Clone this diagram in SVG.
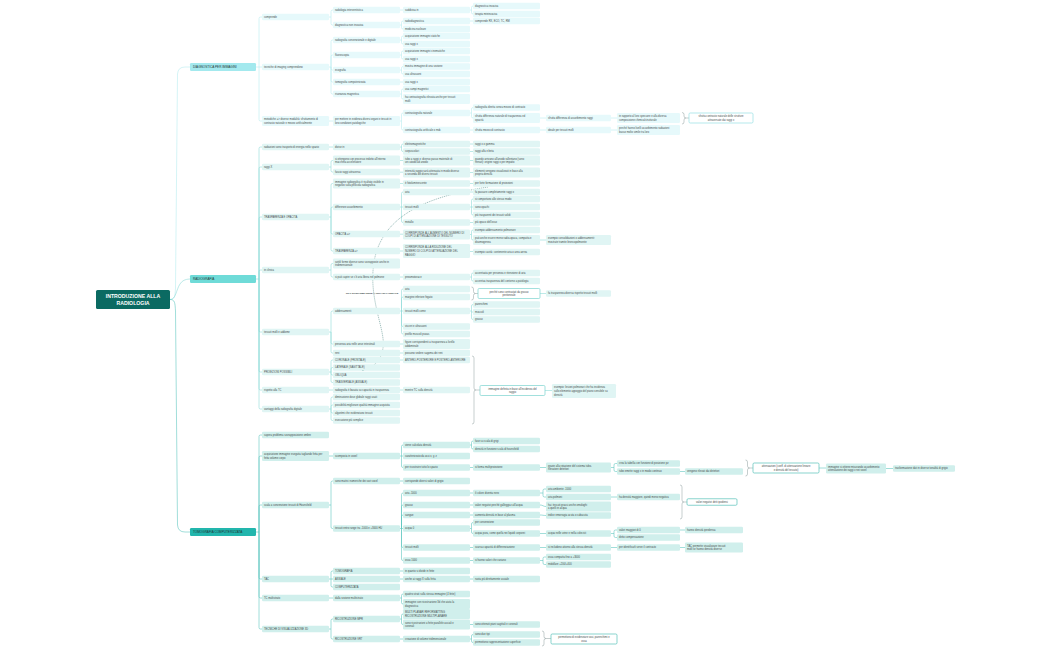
<svg xmlns="http://www.w3.org/2000/svg" width="1050" height="650" viewBox="0 0 1050 650">
<defs>
<style>
text{font-family:"Liberation Sans",Arial,sans-serif;font-size:2.6px;fill:#444b4b}
.n rect{rx:1.2px}
.d rect{fill:#e6f9fb}
.r rect{fill:#e0f5f4}
.t rect{fill:#d0efec}
.s rect{fill:#ffffff;stroke-width:.7}
.d.s rect{stroke:#96dfe4}
.r.s rect{stroke:#7ad2ce}
.t.s rect{stroke:#57c1b9}
.s text{text-anchor:middle}
.l1 text{font-size:3.1px;fill:#1f3535}
#links path{fill:none;stroke-width:.55}
#links .cd{stroke:#b2eaef}
#links .cr{stroke:#86d8d5}
#links .ct{stroke:#52c3bb}
#links .br{stroke:#8d9c9c;stroke-width:.5}
.rel{fill:none;stroke:#2e7570;stroke-width:.45;stroke-dasharray:1.2 .8}
</style>
<marker id="ah" viewBox="0 0 6 6" refX="5" refY="3" markerWidth="4" markerHeight="4" orient="auto"><path d="M0 0L6 3L0 6z" fill="#2e7570"/></marker>
</defs>
<rect width="1050" height="650" fill="#ffffff"/>

<g id="links">
<path class="cd" d="M170 299.5C175 299.5 175 296 175.5 288L177.5 74Q178 67 185 67H190"/>
<path class="cr" d="M170 299.5C176 299.5 176 290 180 284Q183 279 190 279"/>
<path class="ct" d="M170 299.5C175 299.5 175 303 175.5 311L177.5 525Q178 532 185 532H190"/>
<path class="cd" d="M256 67H262M259 67V18.5Q259 17 260.5 17H262M259 67V119.5Q259 121 260.5 121H262"/>
<path class="cd" d="M329 17H331M331 17V11.5Q331 10 332.5 10H333M331 17V23.5Q331 25 332.5 25H333"/>
<path class="cd" d="M329 67H331M331 67V41.5Q331 40 332.5 40H333M331 67V56.5Q331 55 332.5 55H333M331 67V68.5Q331 70 332.5 70H333M331 67V80.5Q331 82 332.5 82H333M331 67V92.5Q331 94 332.5 94H333"/>
<path class="cd" d="M329 121H333M400 10H403M400 82H403"/>
<path class="cd" d="M400 25H401.5M401.5 25V22.5Q401.5 21 403 21M401.5 25V27.5Q401.5 29 403 29"/>
<path class="cd" d="M400 40H401.5M401.5 40V37.5Q401.5 36 403 36M401.5 40V42.5Q401.5 44 403 44"/>
<path class="cd" d="M400 55H401.5M401.5 55V52.5Q401.5 51 403 51M401.5 55V57.5Q401.5 59 403 59"/>
<path class="cd" d="M400 70H401.5M401.5 70V68Q401.5 66.5 403 66.5M401.5 70V72.5Q401.5 74 403 74"/>
<path class="cd" d="M400 94H401.5M401.5 94V90.5Q401.5 89 403 89M401.5 94V97.5Q401.5 99 403 99"/>
<path class="cd" d="M400 121H401.5M401.5 121V114.5Q401.5 113 403 113M401.5 121V128.5Q401.5 130 403 130"/>
<path class="cd" d="M470 10H471.5M471.5 10V7.5Q471.5 6 473 6M471.5 10V12.5Q471.5 14 473 14M470 21H473"/>
<path class="cd" d="M470 113H471.5M471.5 113V109Q471.5 107.5 473 107.5M471.5 113V116.5Q471.5 118 473 118M470 130H473"/>
<path class="cd" d="M540 118H546M540 130H546M611 118H617M611 130H617"/>
<path class="br" d="M682 112.5Q684 112.5 684 114.5V116Q684 118 686 118Q684 118 684 120V122Q684 124 682 124M686 118H689"/>

<path class="cr" d="M256 279H259M259 279V148.5Q259 147 260.5 147H262M259 279V168.5Q259 167 260.5 167H262M259 279V218.5Q259 217 260.5 217H262M259 279V271.5Q259 270 260.5 270H262M259 279V330.5Q259 332 260.5 332H262M259 279V370.5Q259 372 260.5 372H262M259 279V388.5Q259 390 260.5 390H262M259 279V407.5Q259 409 260.5 409H262"/>
<path class="cr" d="M329 147H333M329 390H333"/>
<path class="cr" d="M329 167H331M331 167V162Q331 160.5 332.5 160.5H333M331 167V170.5Q331 172 332.5 172H333"/>
<path class="cr" d="M329 217H331M331 217V185Q331 183.5 332.5 183.5H333M331 217V208.5Q331 207 332.5 207H333M331 217V232.5Q331 234 332.5 234H333M331 217V249.5Q331 251 332.5 251H333"/>
<path class="cr" d="M329 270H331M331 270V265Q331 263.5 332.5 263.5H333M331 270V275.5Q331 277 332.5 277H333"/>
<path class="cr" d="M329 332H331M331 332V312.5Q331 311 332.5 311H333M331 332V342.5Q331 344 332.5 344H333M331 332V351.5Q331 353 332.5 353H333"/>
<path class="cr" d="M329 372H331M331 372V361.5Q331 360 332.5 360H333M331 372V369Q331 367.5 332.5 367.5H333M331 372V373.5Q331 375 332.5 375H333M331 372V381Q331 382.5 332.5 382.5H333"/>
<path class="cr" d="M329 409H331M331 409V398.5Q331 397 332.5 397H333M331 409V406.5Q331 405 332.5 405H333M331 409V411.5Q331 413 332.5 413H333M331 409V419Q331 420.5 332.5 420.5H333"/>
<path class="cr" d="M400 147H401.5M401.5 147V145.5Q401.5 144 403 144M401.5 147V150Q401.5 151.5 403 151.5"/>
<path class="cr" d="M400 160.5H403M400 172.2H403M400 183.5H403M400 234.2H403M400 251H403M400 277H403M400 344H403M400 353H403M400 360H403M400 390H403"/>
<path class="cr" d="M400 207H403M401.5 207V193.5Q401.5 192 403 192M401.5 207V221Q401.5 222.5 403 222.5"/>
<path class="cr" d="M400 311H403M401.5 311V290.5Q401.5 289 403 289M401.5 311V298.5Q401.5 297 403 297M401.5 311V325Q401.5 326.5 403 326.5M401.5 311V332.5Q401.5 334 403 334"/>
<path class="cr" d="M470 144H473M470 151.5H473M470 160.5H473M470 172.5H473M470 183.5H473M470 192H473M470 222.5H473M470 251.5H473"/>
<path class="cr" d="M470 207H473M471.5 207V200.5Q471.5 199 473 199M471.5 207V213.5Q471.5 215 473 215"/>
<path class="cr" d="M470 234.5H471.5M471.5 234.5V231.5Q471.5 230 473 230M471.5 234.5V238.5Q471.5 240 473 240"/>
<path class="cr" d="M470 277H471.5M471.5 277V274.5Q471.5 273 473 273M471.5 277V279.5Q471.5 281 473 281"/>
<path class="cr" d="M470 311H471.5M471.5 311V306Q471.5 304.5 473 304.5M471.5 312H473M471.5 311V318Q471.5 319.5 473 319.5"/>
<path class="cr" d="M540 240H546M540 293.5H546M545 390.5H552"/>
<path class="br" d="M471.5 287Q473.5 287 473.5 289V291.5Q473.5 293.5 475.5 293.5Q473.5 293.5 473.5 295.5V298Q473.5 300 471.5 300M475.5 293.5H478"/>
<path class="br" d="M472 356Q474 356 474 358V388Q474 390 476 390Q474 390 474 392V422Q474 424 472 424M476 390H480"/>

<path class="ct" d="M256 532H259M259 532V436.5Q259 435 260.5 435H262M259 532V457.5Q259 456 260.5 456H262M259 532V506.5Q259 505 260.5 505H262M259 532V577.5Q259 579 260.5 579H262M259 532V596.5Q259 598 260.5 598H262M259 532V627.5Q259 629 260.5 629H262"/>
<path class="ct" d="M329 456H333M329 598H333"/>
<path class="ct" d="M329 505H331M331 505V482.5Q331 481 332.5 481H333M331 505V527Q331 528.5 332.5 528.5H333"/>
<path class="ct" d="M329 579H333M331 579V572.5Q331 571 332.5 571H333M331 579V585.5Q331 587 332.5 587H333"/>
<path class="ct" d="M329 629H331M331 629V620.5Q331 619 332.5 619H333M331 629V637.5Q331 639 332.5 639H333"/>
<path class="ct" d="M400 456H403M401.5 456V446.5Q401.5 445 403 445M401.5 456V466Q401.5 467.5 403 467.5"/>
<path class="ct" d="M400 481H403M400 571H403M400 579H403M400 639H403"/>
<path class="ct" d="M400 528.5H403M401.5 528.5V494.5Q401.5 493 403 493M401.5 528.5V506.5Q401.5 505 403 505M401.5 528.5V516.5Q401.5 515 403 515M401.5 528.5V546Q401.5 547.5 403 547.5M401.5 528.5V559Q401.5 560.5 403 560.5"/>
<path class="ct" d="M400 598H401.5M401.5 598V595.5Q401.5 594 403 594M401.5 598V602.5Q401.5 604 403 604"/>
<path class="ct" d="M400 619H401.5M401.5 619V615.5Q401.5 614 403 614M401.5 619V623Q401.5 624.5 403 624.5"/>
<path class="ct" d="M470 445H471.5M471.5 445V442.5Q471.5 441 473 441M471.5 445V447.5Q471.5 449 473 449"/>
<path class="ct" d="M470 467.5H473M470 493H473M470 505H473M470 515H473M470 547.5H473M470 560.5H473M470 579H473M470 624.5H473"/>
<path class="ct" d="M470 528.5H471.5M471.5 528.5V524Q471.5 522.5 473 522.5M471.5 528.5V532Q471.5 533.5 473 533.5"/>
<path class="ct" d="M470 639H471.5M471.5 639V636Q471.5 634.5 473 634.5M471.5 639V641Q471.5 642.5 473 642.5"/>
<path class="ct" d="M540 467.5H546M540 505C543 505 543 506.5 546 506.5M540 515C543 515 543 515.5 546 515.5M540 533.5H546M540 547.5H546"/>
<path class="ct" d="M540 493H543M543 493V490.5Q543 489 544.5 489H546M543 493V495.5Q543 497 544.5 497H546"/>
<path class="ct" d="M540 560.5H543M543 560.5V558.5Q543 557 544.5 557H546M543 560.5V563Q543 564.5 544.5 564.5H546"/>
<path class="ct" d="M611 467.5H614M614 467.5V465Q614 463.5 615.5 463.5H617M614 467.5V470Q614 471.5 615.5 471.5H617"/>
<path class="ct" d="M611 533.5H614M614 533.5V531.5Q614 530 615.5 530H617M614 533.5V536Q614 537.5 615.5 537.5H617"/>
<path class="ct" d="M611 497H617M611 547.5H617M680 471.5H685M680 530H685M680 547.5H685M819 468H826M886 468.5H893"/>
<path class="br" d="M745.5 460Q747.5 460 747.5 462V466Q747.5 468 749.5 468Q747.5 468 747.5 470V474Q747.5 476 745.5 476M749.5 468H753"/>
<path class="br" d="M680 485Q682 485 682 487V500Q682 502 684 502Q682 502 682 504V517Q682 519 680 519M684 502H687"/>
<path class="br" d="M542 631Q544 631 544 633V636.5Q544 638.5 546 638.5Q544 638.5 544 640.5V644Q544 646 542 646M546 638.5H551"/>
</g>

<g id="relation">
<path class="rel" d="M488 187C430 196 382 214 374 262C368 300 386 330 383 348C381 362 372 368 362 370.5" marker-end="url(#ah)"/>
<text x="372" y="293.5" text-anchor="middle" style="font-size:2.4px;font-weight:bold;fill:#2d3a3a">TIPO SOSTANZE UNITE A ORGANI LATERALE</text>
</g>

<g id="root"><rect x="96" y="290" width="74" height="19" rx="1.5" fill="#0b6a62"/><text x="133" y="298.3" text-anchor="middle" style="font-size:5.2px;font-weight:bold;fill:#ffffff">INTRODUZIONE ALLA</text><text x="133" y="304.9" text-anchor="middle" style="font-size:5.2px;font-weight:bold;fill:#ffffff">RADIOLOGIA</text></g>

<g id="D0" class="n l1"><rect x="190" y="63" width="66" height="8" fill="#a3e9ee"/><text x="193" y="68.1">DIAGNOSTICA PER IMMAGINI</text></g>
<g id="d1" class="n d"><rect x="262" y="13.75" width="67" height="6.5"/><text x="264" y="17.95">comprende</text></g>
<g id="d2" class="n d"><rect x="262" y="63.75" width="67" height="6.5"/><text x="264" y="67.95">tecniche di imaging comprendono</text></g>
<g id="d3" class="n d"><rect x="262" y="116" width="67" height="10"/><text x="264" y="120.15">metodiche =&gt; diverse modalità: sfruttamento di</text><text x="264" y="123.75">contrasto naturale e mezzo artificialmente</text></g>
<g id="d1a" class="n d"><rect x="333" y="6.75" width="67" height="6.5"/><text x="335" y="10.95">radiologia interventistica</text></g>
<g id="d1b" class="n d"><rect x="333" y="21.75" width="67" height="6.5"/><text x="335" y="25.95">diagnostica non invasiva</text></g>
<g id="d2a" class="n d"><rect x="333" y="36.75" width="67" height="6.5"/><text x="335" y="40.95">radiografia convenzionale e digitale</text></g>
<g id="d2b" class="n d"><rect x="333" y="51.75" width="67" height="6.5"/><text x="335" y="55.95">fluoroscopia</text></g>
<g id="d2c" class="n d"><rect x="333" y="66.75" width="67" height="6.5"/><text x="335" y="70.95">ecografia</text></g>
<g id="d2d" class="n d"><rect x="333" y="78.75" width="67" height="6.5"/><text x="335" y="82.95">tomografia computerizzata</text></g>
<g id="d2e" class="n d"><rect x="333" y="90.75" width="67" height="6.5"/><text x="335" y="94.95">risonanza magnetica</text></g>
<g id="d3a" class="n d"><rect x="333" y="116" width="67" height="10"/><text x="335" y="120.15">per mettere in evidenza diversi organi e tessuti in</text><text x="335" y="123.75">loro condizioni patologiche</text></g>
<g id="d1a1" class="n d"><rect x="403" y="6.75" width="67" height="6.5"/><text x="405" y="10.95">suddivisa in</text></g>
<g id="d1b1" class="n d"><rect x="403" y="17.75" width="67" height="6.5"/><text x="405" y="21.95">radiodiagnostica</text></g>
<g id="d1b2" class="n d"><rect x="403" y="25.75" width="67" height="6.5"/><text x="405" y="29.95">medicina nucleare</text></g>
<g id="d2a1" class="n d"><rect x="403" y="32.75" width="67" height="6.5"/><text x="405" y="36.95">acquisizione immagini statiche</text></g>
<g id="d2a2" class="n d"><rect x="403" y="40.75" width="67" height="6.5"/><text x="405" y="44.95">usa raggi x</text></g>
<g id="d2b1" class="n d"><rect x="403" y="47.75" width="67" height="6.5"/><text x="405" y="51.95">acquisizione immagini cinematiche</text></g>
<g id="d2b2" class="n d"><rect x="403" y="55.75" width="67" height="6.5"/><text x="405" y="59.95">usa raggi x</text></g>
<g id="d2c1" class="n d"><rect x="403" y="63.25" width="67" height="6.5"/><text x="405" y="67.45">mostra immagine di una sezione</text></g>
<g id="d2c2" class="n d"><rect x="403" y="70.75" width="67" height="6.5"/><text x="405" y="74.95">usa ultrasuoni</text></g>
<g id="d2d1" class="n d"><rect x="403" y="78.75" width="67" height="6.5"/><text x="405" y="82.95">usa raggi x</text></g>
<g id="d2e1" class="n d"><rect x="403" y="85.75" width="67" height="6.5"/><text x="405" y="89.95">usa campi magnetici</text></g>
<g id="d2e2" class="n d"><rect x="403" y="94" width="67" height="10"/><text x="405" y="98.15">ha contrastografia elevata anche per tessuti</text><text x="405" y="101.75">molli</text></g>
<g id="d3a1" class="n d"><rect x="403" y="109.75" width="67" height="6.5"/><text x="405" y="113.95">contrastografia naturale</text></g>
<g id="d3a2" class="n d"><rect x="403" y="126.75" width="67" height="6.5"/><text x="405" y="130.95">contrastografia artificiale o mdc</text></g>
<g id="d1a1a" class="n d"><rect x="473" y="2.75" width="67" height="6.5"/><text x="475" y="6.95">diagnostica invasiva</text></g>
<g id="d1a1b" class="n d"><rect x="473" y="10.75" width="67" height="6.5"/><text x="475" y="14.95">terapia mininvasiva</text></g>
<g id="d1b1a" class="n d"><rect x="473" y="17.75" width="67" height="6.5"/><text x="475" y="21.95">comprende RX, ECO, TC, RM</text></g>
<g id="d3a1a" class="n d"><rect x="473" y="104.25" width="67" height="6.5"/><text x="475" y="108.45">radiografia diretta senza mezzo di contrasto</text></g>
<g id="d3a1b" class="n d"><rect x="473" y="113" width="67" height="10"/><text x="475" y="117.15">sfrutta differenza naturale di trasparenza ed</text><text x="475" y="120.75">opacità</text></g>
<g id="d3a2a" class="n d"><rect x="473" y="126.75" width="67" height="6.5"/><text x="475" y="130.95">sfrutta mezzo di contrasto</text></g>
<g id="d3a1b1" class="n d"><rect x="546" y="114.75" width="65" height="6.5"/><text x="548" y="118.95">sfrutta differenza di assorbimento raggi</text></g>
<g id="d3a2a1" class="n d"><rect x="546" y="126.75" width="65" height="6.5"/><text x="548" y="130.95">ideale per tessuti molli</text></g>
<g id="d3a1b1a" class="n d"><rect x="617" y="113" width="63" height="10"/><text x="619" y="117.15">in rapporto al loro spessore e alla diversa</text><text x="619" y="120.75">composizione chimica/strutturale</text></g>
<g id="d3a2a1a" class="n d"><rect x="617" y="125" width="63" height="10"/><text x="619" y="129.15">perché hanno livelli assorbimento radiazioni</text><text x="619" y="132.75">basso molto simile tra loro</text></g>
<g id="ds" class="n d s"><rect x="689" y="113" width="64" height="10"/><text x="721" y="117.15">sfrutta contrasto naturale delle strutture</text><text x="721" y="120.75">attraversate dai raggi x</text></g>

<g id="R0" class="n l1"><rect x="190" y="275" width="66" height="8" fill="#6fdbd8"/><text x="193" y="280.1">RADIOGRAFIA</text></g>
<g id="r1" class="n r"><rect x="262" y="143.75" width="67" height="6.5"/><text x="264" y="147.95">radiazioni sono trasporto di energia nello spazio</text></g>
<g id="r2" class="n r"><rect x="262" y="163.75" width="67" height="6.5"/><text x="264" y="167.95">raggi X</text></g>
<g id="r3" class="n r"><rect x="262" y="213.75" width="67" height="6.5"/><text x="264" y="217.95">TRASPARENZA E OPACITÀ</text></g>
<g id="r4" class="n r"><rect x="262" y="266.75" width="67" height="6.5"/><text x="264" y="270.95">in clinica</text></g>
<g id="r5" class="n r"><rect x="262" y="328.75" width="67" height="6.5"/><text x="264" y="332.95">tessuti molli e addome</text></g>
<g id="r6" class="n r"><rect x="262" y="368.75" width="67" height="6.5"/><text x="264" y="372.95">PROIEZIONI POSSIBILI</text></g>
<g id="r7" class="n r"><rect x="262" y="386.75" width="67" height="6.5"/><text x="264" y="390.95">rispetto alla TC</text></g>
<g id="r8" class="n r"><rect x="262" y="405.75" width="67" height="6.5"/><text x="264" y="409.95">vantaggi della radiografia digitale</text></g>
<g id="r1a" class="n r"><rect x="333" y="143.75" width="67" height="6.5"/><text x="335" y="147.95">divise in</text></g>
<g id="r2a" class="n r"><rect x="333" y="155.5" width="67" height="10"/><text x="335" y="159.65">si ottengono con processo indotto all'interno</text><text x="335" y="163.25">macchina acceleratore</text></g>
<g id="r2b" class="n r"><rect x="333" y="168.75" width="67" height="6.5"/><text x="335" y="172.95">fascio raggi attraversa</text></g>
<g id="r3a" class="n r"><rect x="333" y="178.5" width="67" height="10"/><text x="335" y="182.65">immagine radiografica è risultato visibile in</text><text x="335" y="186.25">negativo sulla pellicola radiografica</text></g>
<g id="r3b" class="n r"><rect x="333" y="203.75" width="67" height="6.5"/><text x="335" y="207.95">differenze assorbimento</text></g>
<g id="r3c" class="n r"><rect x="333" y="230.75" width="67" height="6.5"/><text x="335" y="234.95">OPACITÀ =&gt;</text></g>
<g id="r3d" class="n r"><rect x="333" y="247.75" width="67" height="6.5"/><text x="335" y="251.95">TRASPARENZA =&gt;</text></g>
<g id="r4a" class="n r"><rect x="333" y="258.5" width="67" height="10"/><text x="335" y="262.65">sottili forme diverse sono sovrapposte anche in</text><text x="335" y="266.25">tridimensionale</text></g>
<g id="r4b" class="n r"><rect x="333" y="273.75" width="67" height="6.5"/><text x="335" y="277.95">si può capire se c'è aria libera nel polmone</text></g>
<g id="r5a" class="n r"><rect x="333" y="307.75" width="67" height="6.5"/><text x="335" y="311.95">addensamenti</text></g>
<g id="r5b" class="n r"><rect x="333" y="340.75" width="67" height="6.5"/><text x="335" y="344.95">presenza aria nelle anse intestinali</text></g>
<g id="r5c" class="n r"><rect x="333" y="349.75" width="67" height="6.5"/><text x="335" y="353.95">reni</text></g>
<g id="r6a" class="n r"><rect x="333" y="356.75" width="67" height="6.5"/><text x="335" y="360.95">CORONALE (FRONTALE)</text></g>
<g id="r6b" class="n r"><rect x="333" y="364.25" width="67" height="6.5"/><text x="335" y="368.45">LATERALE (SAGITTALE)</text></g>
<g id="r6c" class="n r"><rect x="333" y="371.75" width="67" height="6.5"/><text x="335" y="375.95">OBLIQUA</text></g>
<g id="r6d" class="n r"><rect x="333" y="379.25" width="67" height="6.5"/><text x="335" y="383.45">TRASVERSALE (ASSIALE)</text></g>
<g id="r7a" class="n r"><rect x="333" y="386.75" width="67" height="6.5"/><text x="335" y="390.95">radiografia è basata su capacità in trasparenza</text></g>
<g id="r8a" class="n r"><rect x="333" y="393.75" width="67" height="6.5"/><text x="335" y="397.95">diminuzione dose globale raggi usati</text></g>
<g id="r8b" class="n r"><rect x="333" y="401.75" width="67" height="6.5"/><text x="335" y="405.95">possibilità migliorare qualità immagine acquisita</text></g>
<g id="r8c" class="n r"><rect x="333" y="409.75" width="67" height="6.5"/><text x="335" y="413.95">algoritmi che evidenziano tessuti</text></g>
<g id="r8d" class="n r"><rect x="333" y="417.25" width="67" height="6.5"/><text x="335" y="421.45">esecuzione più semplice</text></g>
<g id="r1a1" class="n r"><rect x="403" y="140.75" width="67" height="6.5"/><text x="405" y="144.95">elettromagnetiche</text></g>
<g id="r1a2" class="n r"><rect x="403" y="148.25" width="67" height="6.5"/><text x="405" y="152.45">corpuscolari</text></g>
<g id="r2a1" class="n r"><rect x="403" y="155.5" width="67" height="10"/><text x="405" y="159.65">tubo a raggi x: diverso passo materiale di</text><text x="405" y="163.25">un catodo ad anodo</text></g>
<g id="r2b1" class="n r"><rect x="403" y="167.5" width="67" height="10"/><text x="405" y="171.65">intensità raggio sarà attenuata in modo diverso</text><text x="405" y="175.25">a seconda dei diversi tessuti</text></g>
<g id="r3a1" class="n r"><rect x="403" y="180.25" width="67" height="6.5"/><text x="405" y="184.45">è fotoluminescente</text></g>
<g id="r3b1" class="n r"><rect x="403" y="188.75" width="67" height="6.5"/><text x="405" y="192.95">aria</text></g>
<g id="r3b2" class="n r"><rect x="403" y="203.75" width="67" height="6.5"/><text x="405" y="207.95">tessuti molli</text></g>
<g id="r3b3" class="n r"><rect x="403" y="219.25" width="67" height="6.5"/><text x="405" y="223.45">metallo</text></g>
<g id="r3c1" class="n r"><rect x="403" y="229.5" width="67" height="10"/><text x="405" y="233.65">CORRISPONDE ALL'AUMENTO DEL NUMERO DI</text><text x="405" y="237.25">COLPI DI ATTENUAZIONE DI TESSUTO</text></g>
<g id="r3d1" class="n r"><rect x="403" y="244" width="67" height="14"/><text x="405" y="248.35">CORRISPONDE ALLA RIDUZIONE DEL</text><text x="405" y="251.95">NUMERO DI COLPI DI ATTENUAZIONE DEL</text><text x="405" y="255.55">RAGGIO</text></g>
<g id="r4b1" class="n r"><rect x="403" y="273.75" width="67" height="6.5"/><text x="405" y="277.95">pneumotorace</text></g>
<g id="r5a1" class="n r"><rect x="403" y="285.75" width="67" height="6.5"/><text x="405" y="289.95">aria</text></g>
<g id="r5a2" class="n r"><rect x="403" y="293.75" width="67" height="6.5"/><text x="405" y="297.95">margine inferiore fegato</text></g>
<g id="r5a3" class="n r"><rect x="403" y="307.75" width="67" height="6.5"/><text x="405" y="311.95">tessuti molli come</text></g>
<g id="r5a4" class="n r"><rect x="403" y="323.25" width="67" height="6.5"/><text x="405" y="327.45">visceri e ultrasuoni</text></g>
<g id="r5a5" class="n r"><rect x="403" y="330.75" width="67" height="6.5"/><text x="405" y="334.95">profilo muscoli psoas</text></g>
<g id="r5b1" class="n r"><rect x="403" y="339" width="67" height="10"/><text x="405" y="343.15">figure corrispondenti a trasparenza a livello</text><text x="405" y="346.75">addominale</text></g>
<g id="r5c1" class="n r"><rect x="403" y="349.75" width="67" height="6.5"/><text x="405" y="353.95">possono vedere sagoma dei reni</text></g>
<g id="r6a1" class="n r"><rect x="403" y="356.75" width="67" height="6.5"/><text x="405" y="360.95">ANTERO-POSTERIORE E POSTERO-ANTERIORE</text></g>
<g id="r7a1" class="n r"><rect x="403" y="386.75" width="67" height="6.5"/><text x="405" y="390.95">mentre TC sulla densità</text></g>
<g id="r1a1a" class="n r"><rect x="473" y="140.75" width="67" height="6.5"/><text x="475" y="144.95">raggi x o gamma</text></g>
<g id="r1a2a" class="n r"><rect x="473" y="148.25" width="67" height="6.5"/><text x="475" y="152.45">raggi alfa e beta</text></g>
<g id="r2a1a" class="n r"><rect x="473" y="155.5" width="67" height="10"/><text x="475" y="159.65">quando arrivano all'anodo rallentano (sono</text><text x="475" y="163.25">frenati): origine raggi x per impatto</text></g>
<g id="r2b1a" class="n r"><rect x="473" y="167.5" width="67" height="10"/><text x="475" y="171.65">elementi vengono visualizzati in base alla</text><text x="475" y="175.25">propria densità</text></g>
<g id="r3a1a" class="n r"><rect x="473" y="180.25" width="67" height="6.5"/><text x="475" y="184.45">per forte formazione di proiezioni</text></g>
<g id="r3b1a" class="n r"><rect x="473" y="188.75" width="67" height="6.5"/><text x="475" y="192.95">fa passare completamente raggi x</text></g>
<g id="r3b2a" class="n r"><rect x="473" y="195.75" width="67" height="6.5"/><text x="475" y="199.95">si comportano allo stesso modo</text></g>
<g id="r3b2b" class="n r"><rect x="473" y="203.75" width="67" height="6.5"/><text x="475" y="207.95">sono opachi</text></g>
<g id="r3b2c" class="n r"><rect x="473" y="211.75" width="67" height="6.5"/><text x="475" y="215.95">più trasparenti dei tessuti solidi</text></g>
<g id="r3b3a" class="n r"><rect x="473" y="219.25" width="67" height="6.5"/><text x="475" y="223.45">più opaco dell'osso</text></g>
<g id="r3c1a" class="n r"><rect x="473" y="226.75" width="67" height="6.5"/><text x="475" y="230.95">esempio addensamento polmonare</text></g>
<g id="r3c1b" class="n r"><rect x="473" y="235" width="67" height="10"/><text x="475" y="239.15">può anche essere meno radio-opaca, compatta e</text><text x="475" y="242.75">disomogenea</text></g>
<g id="r3d1a" class="n r"><rect x="473" y="248.75" width="67" height="6.5"/><text x="475" y="252.95">esempio cavità: contenente aria o area aerea</text></g>
<g id="r4b1a" class="n r"><rect x="473" y="269.75" width="67" height="6.5"/><text x="475" y="273.95">accentuata per presenza e ritenzione di aria</text></g>
<g id="r4b1b" class="n r"><rect x="473" y="277.75" width="67" height="6.5"/><text x="475" y="281.95">accentua trasparenza del contorno a patologia</text></g>
<g id="r5a3a" class="n r"><rect x="473" y="301.25" width="67" height="6.5"/><text x="475" y="305.45">parenchimi</text></g>
<g id="r5a3b" class="n r"><rect x="473" y="308.75" width="67" height="6.5"/><text x="475" y="312.95">muscoli</text></g>
<g id="r5a3c" class="n r"><rect x="473" y="316.25" width="67" height="6.5"/><text x="475" y="320.45">grasso</text></g>
<g id="r5s" class="n r s"><rect x="478" y="288.5" width="62" height="10"/><text x="509" y="292.65">perché sono contrastati da grasso</text><text x="509" y="296.25">peritoneale</text></g>
<g id="r7s" class="n r s"><rect x="480" y="385.5" width="65" height="10"/><text x="512.5" y="389.65">immagine definita in base all'incidenza del</text><text x="512.5" y="393.25">raggio</text></g>
<g id="r3c1b1" class="n r"><rect x="546" y="235" width="65" height="10"/><text x="548" y="239.15">esempio consolidazioni o addensamenti:</text><text x="548" y="242.75">mostrate tramite broncopolmonite</text></g>
<g id="r5s1" class="n r"><rect x="546" y="290.25" width="65" height="6.5"/><text x="548" y="294.45">fa trasparenza diversa rispetto tessuti molli</text></g>
<g id="r7s1" class="n r"><rect x="552" y="384" width="64" height="14"/><text x="554" y="388.35">esempio: lesioni polmonari che ha incidenza</text><text x="554" y="391.95">sullo elemento appoggio del piano sensibile su</text><text x="554" y="395.55">densità</text></g>

<g id="T0" class="n l1"><rect x="190" y="528" width="66" height="8" fill="#22b6ad"/><text x="193" y="533.1">TOMOGRAFIA COMPUTERIZZATA</text></g>
<g id="t1" class="n t"><rect x="262" y="431.75" width="67" height="6.5"/><text x="264" y="435.95">supera problema sovrapposizione ombre</text></g>
<g id="t2" class="n t"><rect x="262" y="451" width="67" height="10"/><text x="264" y="455.15">acquisizione immagine eseguita tagliando fetta per</text><text x="264" y="458.75">fetta volume corpo</text></g>
<g id="t3" class="n t"><rect x="262" y="501.75" width="67" height="6.5"/><text x="264" y="505.95">scala a convenzione tessuti di Hounsfield</text></g>
<g id="t4" class="n t"><rect x="262" y="575.75" width="67" height="6.5"/><text x="264" y="579.95">TAC</text></g>
<g id="t5" class="n t"><rect x="262" y="594.75" width="67" height="6.5"/><text x="264" y="598.95">TC multistrato</text></g>
<g id="t6" class="n t"><rect x="262" y="625.75" width="67" height="6.5"/><text x="264" y="629.95">TECNICHE DI VISUALIZZAZIONE 3D</text></g>
<g id="t2a" class="n t"><rect x="333" y="452.75" width="67" height="6.5"/><text x="335" y="456.95">scomposta in voxel</text></g>
<g id="t3a" class="n t"><rect x="333" y="477.75" width="67" height="6.5"/><text x="335" y="481.95">sono matrici numeriche dei vari voxel</text></g>
<g id="t3b" class="n t"><rect x="333" y="525.25" width="67" height="6.5"/><text x="335" y="529.45">tessuti entro range tra -1000 e +3000 HU</text></g>
<g id="t4a" class="n t"><rect x="333" y="567.75" width="67" height="6.5"/><text x="335" y="571.95">TOMOGRAFIA</text></g>
<g id="t4b" class="n t"><rect x="333" y="575.75" width="67" height="6.5"/><text x="335" y="579.95">ASSIALE</text></g>
<g id="t4c" class="n t"><rect x="333" y="583.75" width="67" height="6.5"/><text x="335" y="587.95">COMPUTERIZZATA</text></g>
<g id="t5a" class="n t"><rect x="333" y="594.75" width="67" height="6.5"/><text x="335" y="598.95">dalla sezione multistrato</text></g>
<g id="t6a" class="n t"><rect x="333" y="615.75" width="67" height="6.5"/><text x="335" y="619.95">RICOSTRUZIONE MPR</text></g>
<g id="t6b" class="n t"><rect x="333" y="635.75" width="67" height="6.5"/><text x="335" y="639.95">RICOSTRUZIONE VRT</text></g>
<g id="t2a1" class="n t"><rect x="403" y="441.75" width="67" height="6.5"/><text x="405" y="445.95">viene calcolata densità</text></g>
<g id="t2a2" class="n t"><rect x="403" y="452.75" width="67" height="6.5"/><text x="405" y="456.95">caratterizzato da assi x, y, z</text></g>
<g id="t2a3" class="n t"><rect x="403" y="464.25" width="67" height="6.5"/><text x="405" y="468.45">per ricostruire tutto lo spazio</text></g>
<g id="t3a1" class="n t"><rect x="403" y="477.75" width="67" height="6.5"/><text x="405" y="481.95">corrisponde diversi valori di grigio</text></g>
<g id="t3b1" class="n t"><rect x="403" y="489.75" width="67" height="6.5"/><text x="405" y="493.95">aria -1000</text></g>
<g id="t3b2" class="n t"><rect x="403" y="501.75" width="67" height="6.5"/><text x="405" y="505.95">grasso</text></g>
<g id="t3b3" class="n t"><rect x="403" y="511.75" width="67" height="6.5"/><text x="405" y="515.95">sangue</text></g>
<g id="t3b4" class="n t"><rect x="403" y="525.25" width="67" height="6.5"/><text x="405" y="529.45">acqua 0</text></g>
<g id="t3b5" class="n t"><rect x="403" y="544.25" width="67" height="6.5"/><text x="405" y="548.45">tessuti molli</text></g>
<g id="t3b6" class="n t"><rect x="403" y="557.25" width="67" height="6.5"/><text x="405" y="561.45">ossa 1000</text></g>
<g id="t4a1" class="n t"><rect x="403" y="567.75" width="67" height="6.5"/><text x="405" y="571.95">in quanto si divide in fette</text></g>
<g id="t4b1" class="n t"><rect x="403" y="575.75" width="67" height="6.5"/><text x="405" y="579.95">anche ai raggi X sulla fetta</text></g>
<g id="t5a1" class="n t"><rect x="403" y="590.75" width="67" height="6.5"/><text x="405" y="594.95">quattro strati sulla stessa immagine (4 fette)</text></g>
<g id="t5a2" class="n t"><rect x="403" y="599" width="67" height="10"/><text x="405" y="603.15">immagine con ricostruzione 3d che aiuta la</text><text x="405" y="606.75">diagnostica</text></g>
<g id="t6a1" class="n t"><rect x="403" y="609" width="67" height="10"/><text x="405" y="613.15">MULTI PLANAR REFORMATTING</text><text x="405" y="616.75">RICOSTRUZIONE MULTIPLANARE</text></g>
<g id="t6a2" class="n t"><rect x="403" y="619.5" width="67" height="10"/><text x="405" y="623.65">sono ricostruzioni a fette parallele assiali e</text><text x="405" y="627.25">coronali</text></g>
<g id="t6b1" class="n t"><rect x="403" y="635.75" width="67" height="6.5"/><text x="405" y="639.95">creazione di volume tridimensionale</text></g>
<g id="t2a1a" class="n t"><rect x="473" y="437.75" width="67" height="6.5"/><text x="475" y="441.95">fase su scala di grigi</text></g>
<g id="t2a1b" class="n t"><rect x="473" y="445.75" width="67" height="6.5"/><text x="475" y="449.95">densità in funzione scala di hounsfield</text></g>
<g id="t2a3a" class="n t"><rect x="473" y="464.25" width="67" height="6.5"/><text x="475" y="468.45">si forma multiproiezione</text></g>
<g id="t3b1a" class="n t"><rect x="473" y="489.75" width="67" height="6.5"/><text x="475" y="493.95">il colore diventa nero</text></g>
<g id="t3b2a" class="n t"><rect x="473" y="501.75" width="67" height="6.5"/><text x="475" y="505.95">valori negativi perché galleggia sull'acqua</text></g>
<g id="t3b3a" class="n t"><rect x="473" y="511.75" width="67" height="6.5"/><text x="475" y="515.95">aumenta densità in base al plasma</text></g>
<g id="t3b4a" class="n t"><rect x="473" y="519.25" width="67" height="6.5"/><text x="475" y="523.45">per convenzione</text></g>
<g id="t3b4b" class="n t"><rect x="473" y="530.25" width="67" height="6.5"/><text x="475" y="534.45">acqua pura, come quella nei liquidi corporei</text></g>
<g id="t3b5a" class="n t"><rect x="473" y="544.25" width="67" height="6.5"/><text x="475" y="548.45">scarsa capacità di differenziazione</text></g>
<g id="t3b6a" class="n t"><rect x="473" y="557.25" width="67" height="6.5"/><text x="475" y="561.45">si hanno valori che variano</text></g>
<g id="t4b1a" class="n t"><rect x="473" y="575.75" width="67" height="6.5"/><text x="475" y="579.95">ruota più direttamente assiale</text></g>
<g id="t6a2a" class="n t"><rect x="473" y="621.25" width="67" height="6.5"/><text x="475" y="625.45">sono ottenuti piani sagittali e coronali</text></g>
<g id="t6b1a" class="n t"><rect x="473" y="631.25" width="67" height="6.5"/><text x="475" y="635.45">sono due tipi</text></g>
<g id="t6b1b" class="n t"><rect x="473" y="639.25" width="67" height="6.5"/><text x="475" y="643.45">permettono rappresentazione superficie</text></g>
<g id="t2a3a1" class="n t"><rect x="546" y="462.5" width="65" height="10"/><text x="548" y="466.65">grazie alla rotazione del sistema tubo-</text><text x="548" y="470.25">rilevatore detettori</text></g>
<g id="t3b1a1" class="n t"><rect x="546" y="485.75" width="65" height="6.5"/><text x="548" y="489.95">aria ambiente -1000</text></g>
<g id="t3b1a2" class="n t"><rect x="546" y="493.75" width="65" height="6.5"/><text x="548" y="497.95">aria polmoni</text></g>
<g id="t3b2a1" class="n t"><rect x="546" y="501.5" width="65" height="10"/><text x="548" y="505.65">ha i tessuti grassi anche omologhi</text><text x="548" y="509.25">a quelli in acqua</text></g>
<g id="t3b3a1" class="n t"><rect x="546" y="512.25" width="65" height="6.5"/><text x="548" y="516.45">indice emorragia acuta o subacuta</text></g>
<g id="t3b4b1" class="n t"><rect x="546" y="530.25" width="65" height="6.5"/><text x="548" y="534.45">acqua nelle urine e nella colecisti</text></g>
<g id="t3b5a1" class="n t"><rect x="546" y="544.25" width="65" height="6.5"/><text x="548" y="548.45">si includono attorno alla stessa densità</text></g>
<g id="t3b6a1" class="n t"><rect x="546" y="553.75" width="65" height="6.5"/><text x="548" y="557.95">ossa compatta fino a +3000</text></g>
<g id="t3b6a2" class="n t"><rect x="546" y="561.25" width="65" height="6.5"/><text x="548" y="565.45">midollare +200/+400</text></g>
<g id="t2a3a1a" class="n t"><rect x="617" y="460.25" width="63" height="6.5"/><text x="619" y="464.45">crea la tabella con funzione di posizione pz</text></g>
<g id="t2a3a1b" class="n t"><rect x="617" y="468.25" width="63" height="6.5"/><text x="619" y="472.45">tubo emette raggi x in modo continuo</text></g>
<g id="t3b1a2a" class="n t"><rect x="617" y="493.75" width="63" height="6.5"/><text x="619" y="497.95">ha densità maggiore, quindi meno negativa</text></g>
<g id="t3b4b1a" class="n t"><rect x="617" y="526.75" width="63" height="6.5"/><text x="619" y="530.95">valori maggiori di 0</text></g>
<g id="t3b4b1b" class="n t"><rect x="617" y="534.25" width="63" height="6.5"/><text x="619" y="538.45">detto compensazione</text></g>
<g id="t3b5a1a" class="n t"><rect x="617" y="544.25" width="63" height="6.5"/><text x="619" y="548.45">per identificarli serve il contrasto</text></g>
<g id="t2a3a1b1" class="n t"><rect x="685" y="468.25" width="58" height="6.5"/><text x="687" y="472.45">vengono rilevati dai detettori</text></g>
<g id="t3b4b1a1" class="n t"><rect x="685" y="526.75" width="58" height="6.5"/><text x="687" y="530.95">hanno densità iperdensa</text></g>
<g id="t3b5a1a1" class="n t"><rect x="685" y="542.5" width="58" height="10"/><text x="687" y="546.65">TAC permette visualizzare tessuti</text><text x="687" y="550.25">molli se hanno densità diverse</text></g>
<g id="ts1" class="n t s"><rect x="753" y="463" width="66" height="10"/><text x="786" y="467.15">attenuazioni (coeff. di attenuazione lineare</text><text x="786" y="470.75">e densità del tessuto)</text></g>
<g id="ts1a" class="n t"><rect x="826" y="463.5" width="60" height="10"/><text x="828" y="467.65">immagine si ottiene misurando assorbimento</text><text x="828" y="471.25">attenuazione dei raggi x nei voxel</text></g>
<g id="ts1b" class="n t"><rect x="893" y="465.25" width="62" height="6.5"/><text x="895" y="469.45">trasformazione dati in diverse tonalità di grigio</text></g>
<g id="ts2" class="n t s"><rect x="687" y="498.75" width="50" height="6.5"/><text x="712" y="502.95">valori negativi detti ipodensi</text></g>
<g id="ts3" class="n t s"><rect x="551" y="634" width="66" height="10"/><text x="584" y="638.15">permettono di evidenziare vasi, parenchimi e</text><text x="584" y="641.75">ossa</text></g>
</svg>
